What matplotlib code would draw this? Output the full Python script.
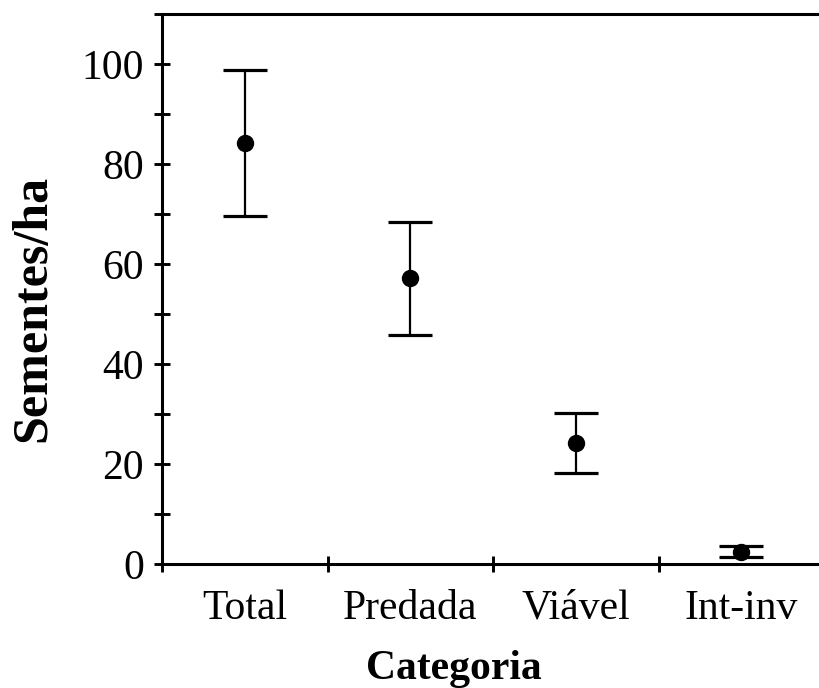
import numpy as np
import matplotlib.pyplot as plt
from matplotlib.ticker import MultipleLocator

# Values
categories = ["Total", "Predada", "Viável", "Int-inv"]
means = [84.2, 57.1, 24.3, 2.4]
upper = [98.7, 68.3, 30.3, 3.6]
lower = [69.5, 45.8, 18.2, 1.4]

plt.rcParams['font.family'] = ['Liberation Serif', 'DejaVu Serif']

x = np.arange(len(categories)) + 0.5
yerr = [np.array(means) - np.array(lower), np.array(upper) - np.array(means)]

fig = plt.figure(figsize=(8.2, 6.88), dpi=100)
ax = fig.add_axes([0.1976, 0.1802, 0.8074, 0.7995])

ax.errorbar(x, means, yerr=yerr, fmt='o', color='black', ms=11.5,
            elinewidth=1.6, capsize=15.5, capthick=2.3)

ax.set_xlim(0, 4)
ax.set_ylim(0, 110)
ax.set_xticks([0, 1, 2, 3, 4])
ax.set_xticklabels([])
ax.set_xticks(x, minor=True)
ax.set_xticklabels(categories, minor=True)
ax.tick_params(axis='x', which='minor', length=0, pad=18, labelsize=30)
ax.tick_params(axis='x', which='major', direction='inout', length=12, width=2.1)

ax.yaxis.set_major_locator(MultipleLocator(20))
ax.yaxis.set_minor_locator(MultipleLocator(10))
ax.tick_params(axis='y', which='both', direction='inout', length=12, width=2.1,
               labelsize=30, pad=7)

for side in ['left', 'bottom', 'top', 'right']:
    ax.spines[side].set_linewidth(2.2)

ax.set_xlabel("Categoria", fontsize=30, fontweight='bold')
ax.xaxis.set_label_coords(0.441, -0.157)
ax.set_ylabel("Sementes/ha", fontsize=36, fontweight='bold')
ax.yaxis.set_label_coords(-0.16, 0.465)

plt.savefig("out.png", dpi=100)
